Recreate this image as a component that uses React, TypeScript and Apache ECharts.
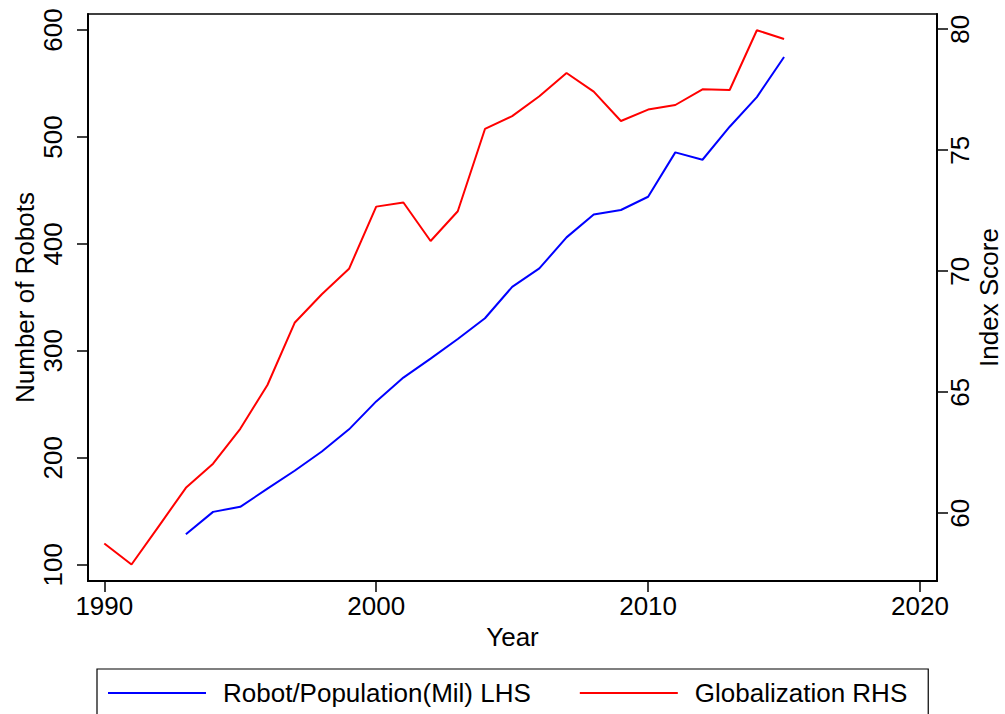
import React, { useEffect, useRef } from "react";
import * as echarts from "echarts";

const years = [1990, 1991, 1992, 1993, 1994, 1995, 1996, 1997, 1998, 1999, 2000, 2001, 2002, 2003, 2004, 2005, 2006, 2007, 2008, 2009, 2010, 2011, 2012, 2013, 2014, 2015];
const robots: (number | null)[] = [null, null, null, 128.4, 149.4, 154.1, 171.1, 187.9, 205.9, 226.6, 252.7, 275.0, 292.7, 311.1, 330.5, 359.8, 377.1, 406.1, 427.6, 431.7, 444.1, 485.6, 478.7, 509.6, 537.3, 574.8];
const globalization = [58.75, 57.88, 59.46, 61.05, 62.05, 63.49, 65.3, 67.87, 69.05, 70.1, 72.67, 72.84, 71.25, 72.48, 75.88, 76.41, 77.23, 78.19, 77.42, 76.21, 76.68, 76.87, 77.52, 77.49, 79.96, 79.6];
const xTicks = [1990, 2000, 2010, 2020];
const leftTicks = [100, 200, 300, 400, 500, 600];
const rightTicks = [60, 65, 70, 75, 80];

const FONT = "'Liberation Sans', Arial, sans-serif";

export default function App() {
  const ref = useRef<HTMLDivElement>(null);
  useEffect(() => {
    if (!ref.current) return;
    const chart = echarts.init(ref.current, null, { renderer: "svg" });
    const robotData = years
      .map((y, i) => [y, robots[i]])
      .filter((d) => d[1] !== null);
    const globData = years.map((y, i) => [y, globalization[i]]);
    const axisText = { fontSize: 26, color: "#000", fontFamily: FONT };
    const plain = (v: number) => String(v);
    const option: any = {
      animation: false,
      backgroundColor: "#fff",
      textStyle: { fontFamily: FONT },
      grid: {
        left: 88,
        right: 68,
        top: 14,
        bottom: 133,
        show: true,
        borderColor: "#000",
        borderWidth: 1.5,
        containLabel: false,
        outerBoundsMode: "none",
      },
      xAxis: {
        type: "value",
        min: 1989.4,
        max: 2020.625,
        name: "Year",
        nameLocation: "middle",
        nameGap: 42,
        nameTextStyle: axisText,
        axisLine: { show: true, onZero: false, lineStyle: { color: "#000", width: 2 } },
        axisTick: { show: true, length: 11, lineStyle: { color: "#000", width: 1.5 }, customValues: xTicks },
        axisLabel: { ...axisText, margin: 12, customValues: xTicks, formatter: plain },
        splitLine: { show: false },
      },
      yAxis: [
        {
          type: "value",
          position: "left",
          min: 84.76,
          max: 615,
          name: "Number of Robots",
          nameLocation: "middle",
          nameRotate: 90,
          nameGap: 50,
          nameMoveOverlap: false,
          nameTextStyle: axisText,
          axisLine: { show: true, onZero: false, lineStyle: { color: "#000", width: 2 } },
          axisTick: { show: true, length: 11, lineStyle: { color: "#000", width: 1.5 }, customValues: leftTicks },
          axisLabel: { ...axisText, rotate: 90, margin: 22, customValues: leftTicks, formatter: plain },
          splitLine: { show: false },
        },
        {
          type: "value",
          position: "right",
          min: 57.2,
          max: 80.63,
          name: "Index Score",
          nameLocation: "middle",
          nameRotate: 90,
          nameGap: 39,
          nameMoveOverlap: false,
          nameTextStyle: axisText,
          axisLine: { show: true, onZero: false, lineStyle: { color: "#000", width: 2 } },
          axisTick: { show: true, length: 11, lineStyle: { color: "#000", width: 1.5 }, customValues: rightTicks },
          axisLabel: { ...axisText, rotate: 90, margin: 10, customValues: rightTicks, formatter: plain },
          splitLine: { show: false },
        },
      ],
      legend: {
        left: 97,
        top: 669,
        orient: "horizontal",
        icon: "rect",
        itemWidth: 98,
        itemHeight: 2,
        itemGap: 49,
        padding: [11, 21, 20, 11],
        borderColor: "#000",
        borderWidth: 1.2,
        selectedMode: false,
        textStyle: { fontSize: 26, color: "#000", fontFamily: FONT, padding: [0, 0, 0, 12] },
      },
      series: [
        {
          name: "Robot/Population(Mil) LHS",
          type: "line",
          yAxisIndex: 0,
          data: robotData,
          symbol: "none",
          color: "#0000ff",
          lineStyle: { color: "#0000ff", width: 2 },
        },
        {
          name: "Globalization RHS",
          type: "line",
          yAxisIndex: 1,
          data: globData,
          symbol: "none",
          color: "#ff0000",
          lineStyle: { color: "#ff0000", width: 2 },
        },
      ],
    };
    chart.setOption(option);
    return () => chart.dispose();
  }, []);
  return (
    <div
      ref={ref}
      style={{ position: "absolute", left: 0, top: 0, width: 1005, height: 714, background: "#fff" }}
    />
  );
}
